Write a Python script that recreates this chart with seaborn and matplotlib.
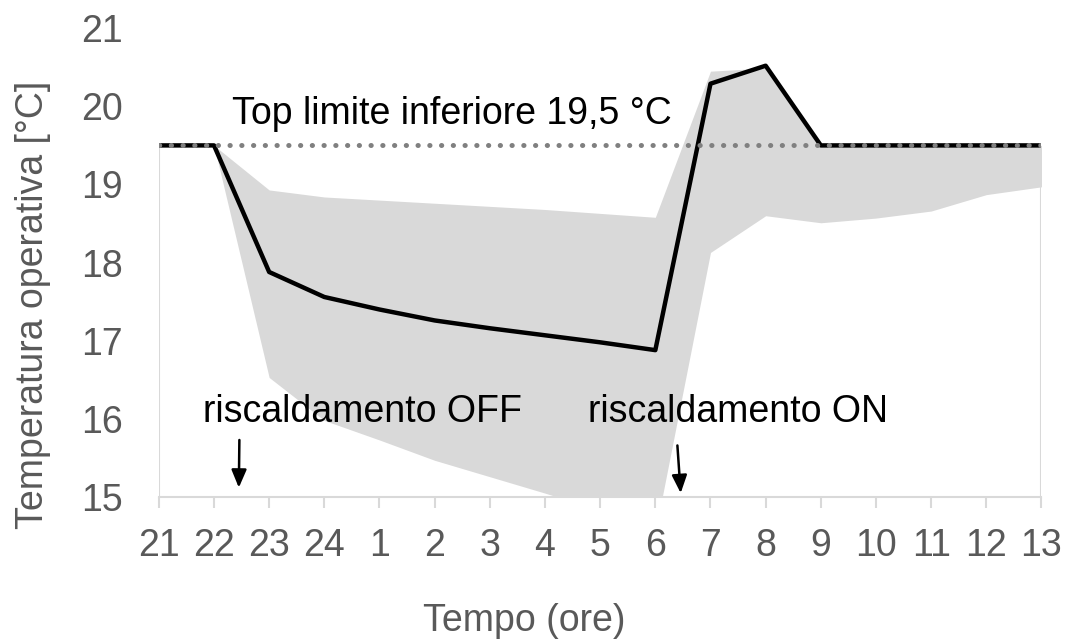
import matplotlib
matplotlib.use("Agg")
import matplotlib.pyplot as plt
import seaborn as sns
import numpy as np
import pandas as pd

# ---- data ----
hours = ["21", "22", "23", "24", "1", "2", "3", "4", "5", "6", "7", "8", "9", "10", "11", "12", "13"]
mean_temp = [19.5, 19.5, 17.88, 17.56, 17.40, 17.26, 17.16, 17.07, 16.98, 16.88, 20.29, 20.52, 19.5, 19.5, 19.5, 19.5, 19.5]
upper_temp = [19.5, 19.5, 18.93, 18.84, 18.80, 18.76, 18.72, 18.68, 18.63, 18.58, 20.45, 20.49, 19.5, 19.5, 19.5, 19.5, 19.5]
lower_temp = [19.5, 19.5, 16.53, 15.98, 15.73, 15.47, 15.26, 15.05, 14.83, 14.55, 18.13, 18.60, 18.51, 18.57, 18.66, 18.87, 18.97]
limit_value = 19.5
limit_label = "Top limite inferiore 19,5 °C"
y_ticks = [15, 16, 17, 18, 19, 20, 21]

sns.set_theme(style="white")
plt.rcParams['font.family'] = ['Liberation Sans', 'DejaVu Sans']

df = pd.DataFrame({"pos": np.arange(len(hours)), "hour": hours,
                   "mean": mean_temp, "upper": upper_temp, "lower": lower_temp})

fig = plt.figure(figsize=(10.66, 6.41), dpi=100)
ax = fig.add_axes([0.149, 0.2246, 0.828, 0.7314])

grey_txt = "#595959"
band = "#d9d9d9"
fs = 27

ax.fill_between(df["pos"], df["lower"], df["upper"], color=band, linewidth=0, zorder=1)
sns.lineplot(data=df, x="pos", y="mean", ax=ax, color="black", linewidth=3.2,
             zorder=3, legend=False)
ax.plot(df["pos"], [limit_value] * len(df), color="#808080", linewidth=3.6,
        linestyle=(0, (0.05, 2.3)), dash_capstyle="round", zorder=4)

# light edges of the area chart
ax.vlines(df["pos"].iloc[0], y_ticks[0], df["lower"].iloc[0], color=band, linewidth=1.5, zorder=2)
ax.vlines(df["pos"].iloc[-1], y_ticks[0], df["lower"].iloc[-1], color=band, linewidth=1.5, zorder=2)

ax.set_xlim(df["pos"].iloc[0], df["pos"].iloc[-1])
ax.set_ylim(y_ticks[0], y_ticks[-1])
ax.set_xticks(df["pos"])
ax.set_xticklabels(hours)
ax.set_yticks(y_ticks)

for s in ["top", "right", "left"]:
    ax.spines[s].set_visible(False)
ax.spines["bottom"].set_color(band)
ax.spines["bottom"].set_linewidth(1.5)
ax.spines["bottom"].set_zorder(5)

ax.tick_params(axis="x", colors=grey_txt, labelsize=fs, length=8, width=1.5,
               color=band, direction="out", pad=14, bottom=True)
ax.tick_params(axis="y", colors=grey_txt, labelsize=fs, length=0, pad=26)
ax.set_xlabel("")
ax.set_ylabel("")
ax.grid(False)

# axis titles (placed as in the reference)
fig.text(524 / 1066, 1 - 631 / 641, "Tempo (ore)", fontsize=fs, color=grey_txt,
         ha="center", va="baseline")
fig.text(33 / 1066, 1 - 305 / 641, "Temperatura operativa [°C]", fontsize=fs,
         color=grey_txt, rotation=90, ha="center", va="center")

ax.text(5.32, 19.78, limit_label, fontsize=fs, color="black", ha="center", va="baseline", zorder=6)
ax.text(3.70, 15.96, "riscaldamento OFF", fontsize=fs, color="black", ha="center", va="baseline", zorder=6)
ax.text(10.49, 15.96, "riscaldamento ON", fontsize=fs, color="black", ha="center", va="baseline", zorder=6)

arrow_kw = dict(arrowstyle="-|>,head_length=0.9,head_width=0.38", color="black", lw=1.8,
                shrinkA=0, shrinkB=0)
ax.annotate("", xy=(1.45, 15.12), xytext=(1.46, 15.73), arrowprops=arrow_kw, zorder=6)
ax.annotate("", xy=(9.46, 15.05), xytext=(9.40, 15.66), arrowprops=arrow_kw, zorder=6)

fig.savefig("out.png", dpi=100)
